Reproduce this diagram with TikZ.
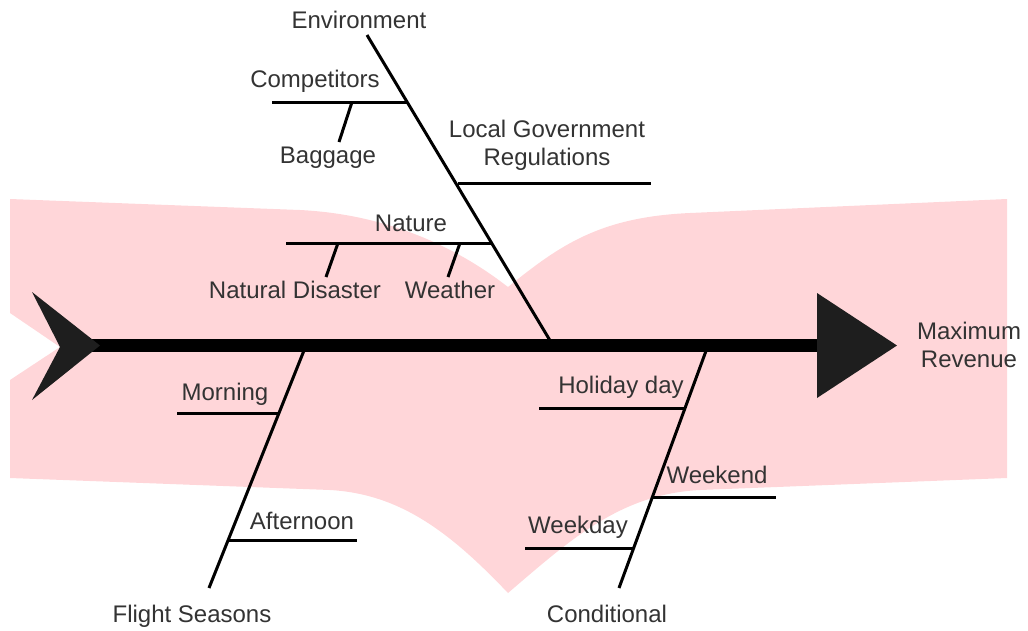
\documentclass[tikz,border=0pt]{standalone}
\usepackage{fontspec}
\setmainfont{Liberation Sans}
\definecolor{bgpink}{RGB}{255,214,217}
\definecolor{txt}{RGB}{51,51,51}
\definecolor{dark}{RGB}{30,30,30}
\begin{document}
\begin{tikzpicture}[x=1pt,y=-1pt,
  bone/.style={line width=3pt, black},
  spine/.style={line width=12.5pt, black},
  lbl/.style={inner sep=0pt, anchor=base, text=txt, font=\fontsize{24}{28}\selectfont, align=center},
  headshape/.style={fill=dark, draw=none}]
\useasboundingbox (0,0) rectangle (1028,630);

% pink background band
\fill[bgpink] (10,199) -- (300,210)
  .. controls (380,214) and (450,242) .. (508,287)
  .. controls (560,245) and (600,217) .. (690,213)
  -- (1007,199) -- (1007,478) -- (700,490)
  .. controls (620,494) and (570,540) .. (508,593)
  .. controls (450,532) and (400,494) .. (330,490)
  -- (10,478) -- (10,380) -- (60,347) -- (10,313) -- cycle;

% key points
\coordinate (spL) at (73,345.5);
\coordinate (spR) at (818,345.5);
\coordinate (envTop) at (367,35);
\coordinate (envBot) at (553,345.5);
\coordinate (fsTop) at (306,345.5);
\coordinate (fsBot) at (209,588);
\coordinate (coTop) at (708,345.5);
\coordinate (coBot) at (619,588);

\coordinate (compL) at (272,102);
\coordinate (compR) at (407,102);
\coordinate (bagA) at (352,102);
\coordinate (bagB) at (339,142);
\coordinate (lgrL) at (458,183);
\coordinate (lgrR) at (651,183);
\coordinate (natL) at (286,243);
\coordinate (natR) at (493,243);
\coordinate (ndA) at (338,243);
\coordinate (ndB) at (326,277);
\coordinate (wA) at (460,243);
\coordinate (wB) at (448,277);

\coordinate (mornL) at (177,413);
\coordinate (mornR) at (279,413);
\coordinate (aftL) at (227,540);
\coordinate (aftR) at (357,540);

\coordinate (holL) at (539,408);
\coordinate (holR) at (685,408);
\coordinate (wkeL) at (653,497);
\coordinate (wkeR) at (776,497);
\coordinate (wkdL) at (525,548);
\coordinate (wkdR) at (634,548);

% spine
\draw[spine] (spL) -- (spR);

% bones
\draw[bone] (envTop) -- (envBot);
\draw[bone] (fsTop) -- (fsBot);
\draw[bone] (coTop) -- (coBot);

\draw[bone] (compL) -- (compR);
\draw[bone] (bagA) -- (bagB);
\draw[bone] (lgrL) -- (lgrR);
\draw[bone] (natL) -- (natR);
\draw[bone] (ndA) -- (ndB);
\draw[bone] (wA) -- (wB);
\draw[bone] (mornL) -- (mornR);
\draw[bone] (aftL) -- (aftR);
\draw[bone] (holL) -- (holR);
\draw[bone] (wkeL) -- (wkeR);
\draw[bone] (wkdL) -- (wkdR);

% tail and head
\fill[headshape] (32,292) -- (100,345.5) -- (32,400) -- (60,347) -- cycle;
\fill[headshape] (817,293) -- (897,345.5) -- (817,398) -- cycle;

% labels
\node[lbl] (lEnv) at (359,28) {Environment};
\node[lbl] (lComp) at (315,87) {Competitors};
\node[lbl] (lBag) at (328,163) {Baggage};
\node[lbl] (lLGR) at (547,165) {Local Government\\Regulations};
\node[lbl] (lNat) at (411,231) {Nature};
\node[lbl] (lND) at (295,298) {Natural Disaster};
\node[lbl] (lW) at (450,298) {Weather};
\node[lbl] (lMorn) at (225,400) {Morning};
\node[lbl] (lAft) at (302,529) {Afternoon};
\node[lbl] (lFS) at (192,622) {Flight Seasons};
\node[lbl] (lHol) at (621,393) {Holiday day};
\node[lbl] (lWke) at (717,483) {Weekend};
\node[lbl] (lWkd) at (578,533) {Weekday};
\node[lbl] (lCond) at (607,622) {Conditional};
\node[lbl] (lMax) at (969,367) {Maximum\\Revenue};
\end{tikzpicture}
\end{document}
